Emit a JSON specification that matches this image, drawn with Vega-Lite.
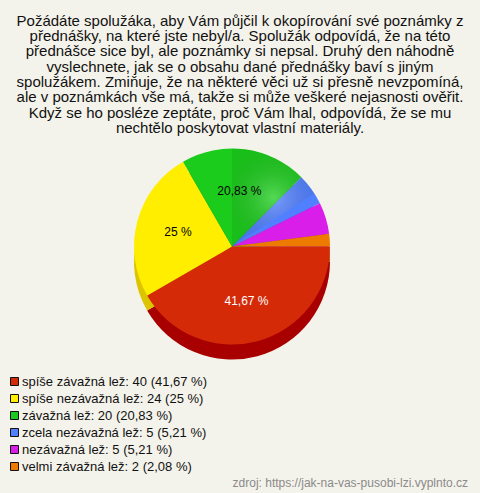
{
  "$schema": "https://vega.github.io/schema/vega-lite/v6.json",
  "background": "#f4f3eb",
  "padding": 1,
  "title": {
    "text": "zdroj: https://jak-na-vas-pusobi-lzi.vyplnto.cz",
    "orient": "bottom",
    "anchor": "end",
    "frame": "group",
    "offset": -14,
    "dx": -11,
    "font": "Liberation Sans",
    "fontSize": 12,
    "fontWeight": "normal",
    "color": "#8a8a8a"
  },
  "config": {
    "concat": {"spacing": 0},
    "view": {"stroke": "#3a3a3a", "strokeWidth": 1},
    "legend": {
      "labelFont": "Liberation Sans",
      "labelFontSize": 13,
      "labelColor": "#111111",
      "symbolType": "square",
      "symbolSize": 64,
      "symbolStrokeColor": "#111111",
      "symbolStrokeWidth": 1,
      "symbolOpacity": 1,
      "rowPadding": 3,
      "labelOffset": 1,
      "labelLimit": 400
    }
  },
  "vconcat": [
    {
      "width": 478,
      "height": 491,
      "title": {
        "text": [
          "Požádáte spolužáka, aby Vám půjčil k okopírování své poznámky z",
          "přednášky, na které jste nebyl/a. Spolužák odpovídá, že na této",
          "přednášce sice byl, ale poznámky si nepsal. Druhý den náhodně",
          "vyslechnete, jak se o obsahu dané přednášky baví s jiným",
          "spolužákem. Zmiňuje, že na některé věci už si přesně nevzpomíná,",
          "ale v poznámkách vše má, takže si může veškeré nejasnosti ověřit.",
          "Když se ho posléze zeptáte, proč Vám lhal, odpovídá, že se mu",
          "nechtělo poskytovat vlastní materiály."
        ],
        "orient": "top",
        "anchor": "middle",
        "frame": "group",
        "offset": -135,
        "font": "Liberation Sans",
        "fontSize": 15,
        "fontWeight": "normal",
        "lineHeight": 15.3,
        "color": "#111111"
      },
      "data": {
        "values": [
          {"kategorie": "spíše závažná lež: 40 (41,67 %)", "pocet": 40, "podil": "41,67 %", "poradi": 1},
          {"kategorie": "spíše nezávažná lež: 24 (25 %)", "pocet": 24, "podil": "25 %", "poradi": 2},
          {"kategorie": "závažná lež: 20 (20,83 %)", "pocet": 20, "podil": "20,83 %", "poradi": 3},
          {"kategorie": "zcela nezávažná lež: 5 (5,21 %)", "pocet": 5, "podil": "5,21 %", "poradi": 4},
          {"kategorie": "nezávažná lež: 5 (5,21 %)", "pocet": 5, "podil": "5,21 %", "poradi": 5},
          {"kategorie": "velmi závažná lež: 2 (2,08 %)", "pocet": 2, "podil": "2,08 %", "poradi": 6}
        ]
      },
      "layer": [
        {
          "mark": {"type": "arc", "radius": 98, "yOffset": 15, "xOffset": -8},
          "encoding": {
            "theta": {"field": "pocet", "type": "quantitative", "stack": true, "scale": {"range": [1.5707963, 7.8539816]}},
            "order": {"field": "poradi", "type": "ordinal"},
            "fill": {
              "field": "poradi",
              "type": "nominal",
              "legend": null,
              "scale": {
                "domain": [1, 2, 3, 4, 5, 6],
                "range": ["#a80000", "#dcc400", "#0b9a0b", "#3355cc", "#9a10aa", "#b85000"]
              }
            }
          }
        },
        {
          "mark": {"type": "arc", "radius": 98, "xOffset": -8},
          "encoding": {
            "theta": {"field": "pocet", "type": "quantitative", "stack": true, "scale": {"range": [1.5707963, 7.8539816]}},
            "order": {"field": "poradi", "type": "ordinal"},
            "color": {
              "field": "kategorie",
              "type": "nominal",
              "scale": {
                "domain": [
                  "spíše závažná lež: 40 (41,67 %)",
                  "spíše nezávažná lež: 24 (25 %)",
                  "závažná lež: 20 (20,83 %)",
                  "zcela nezávažná lež: 5 (5,21 %)",
                  "nezávažná lež: 5 (5,21 %)",
                  "velmi závažná lež: 2 (2,08 %)"
                ],
                "range": ["#d42a08", "#ffee00", "#1ccc1c", "#5080ff", "#d81ee8", "#ee7a00"]
              },
              "legend": {"title": null, "orient": "none", "legendX": 7, "legendY": 374}
            }
          }
        },
        {
          "data": {"values": [{"celek": 1}]},
          "mark": {
            "type": "arc",
            "radius": 98,
            "xOffset": -8,
            "fill": {
              "gradient": "radial",
              "x1": 0.5, "y1": 0.5, "r1": 0,
              "x2": 0.5, "y2": 0.5, "r2": 0.5,
              "stops": [
                {"offset": 0, "color": "rgba(255,255,255,0.25)"},
                {"offset": 1, "color": "rgba(0,0,0,0.07)"}
              ]
            }
          },
          "encoding": {
            "theta": {"field": "celek", "type": "quantitative", "scale": null}
          }
        },
        {
          "mark": {"type": "text", "radius": 56, "xOffset": -8, "font": "Liberation Sans", "fontSize": 12},
          "encoding": {
            "theta": {"field": "pocet", "type": "quantitative", "stack": true, "scale": {"range": [1.5707963, 7.8539816]}},
            "order": {"field": "poradi", "type": "ordinal"},
            "text": {"condition": {"test": "datum.pocet < 20", "value": ""}, "field": "podil"},
            "color": {"condition": {"test": "datum.pocet == 40", "value": "#ffffff"}, "value": "#000000"}
          }
        }
      ]
    }
  ]
}
